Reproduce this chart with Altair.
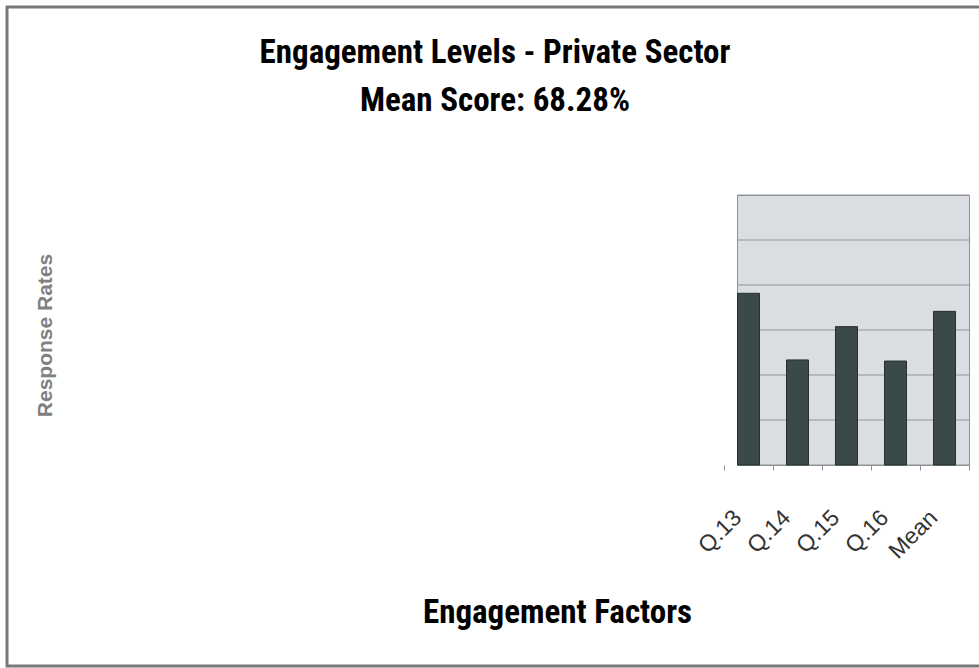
import altair as alt
import pandas as pd

# ---- data ----
categories = ["Q.13", "Q.14", "Q.15", "Q.16", "Mean"]
response_rates = [76.3, 46.7, 61.5, 46.2, 68.28]
y_ticks = [0, 20, 40, 60, 80, 100, 120]
title_lines = ["Engagement Levels - Private Sector", "Mean Score: 68.28%"]

df = pd.DataFrame({"factor": categories, "rate": response_rates})
grid_df = pd.DataFrame({"tick": y_ticks})

NARROW = "Liberation Sans Narrow, Arial Narrow, Roboto Condensed, Liberation Sans"
SANS = "Liberation Sans, Arial, sans-serif"

y_scale = alt.Scale(domain=[0, 120], nice=False)

grid = alt.Chart(grid_df).mark_rule(color="#8f9499", strokeWidth=1).encode(
    y=alt.Y("tick:Q", scale=y_scale)
)

bars = alt.Chart(df).mark_bar(
    size=22, color="#3b4949", stroke="#263030", strokeWidth=1
).encode(
    x=alt.X(
        "factor:N",
        sort=categories,
        scale=alt.Scale(range=[-13, 232], paddingInner=0, paddingOuter=0),
        axis=alt.Axis(
            title="Engagement Factors",
            titleFont=NARROW,
            titleFontSize=33,
            titleFontWeight="bold",
            titleColor="#000000",
            titleX=-180,
            titleY=157,
            titleAlign="center",
            titleBaseline="alphabetic",
            labelAngle=-45,
            labelFont=SANS,
            labelFontSize=23,
            labelColor="#333333",
            labelPadding=36,
            labelOffset=-19,
            domain=False,
            ticks=True,
            tickBand="extent",
            tickColor="#8c9196",
            tickSize=5,
            grid=False,
        ),
    ),
    y=alt.Y(
        "rate:Q",
        scale=y_scale,
        axis=alt.Axis(
            values=y_ticks,
            labels=False,
            ticks=False,
            domain=False,
            grid=False,
            title="Response Rates",
            titleFont=SANS,
            titleFontSize=21,
            titleFontWeight="bold",
            titleColor="#808080",
            titleAngle=270,
            titleAlign="center",
            titleBaseline="middle",
            titleX=-692,
            titleY=140,
        ),
    ),
)

frame = alt.Chart(alt.Data(values=[{}])).mark_rect(
    fillOpacity=0, stroke="#787878", strokeWidth=3
).encode(
    x=alt.value(-730), x2=alt.value(260), y=alt.value(-188), y2=alt.value(471)
)

chart = alt.layer(frame, grid, bars).properties(
    width=232,
    height=270,
    padding={"left": 737, "top": 195, "right": 10, "bottom": 203},
    autosize=alt.AutoSizeParams(type="none"),
    background="white",
    title=alt.TitleParams(
        text=title_lines,
        font=NARROW,
        fontSize=33,
        fontWeight="bold",
        color="#000000",
        anchor="middle",
        frame="group",
        dx=-358,
        offset=-112,
        lineHeight=48,
    ),
).configure_view(
    fill="#dadde1", stroke="#8c9196", strokeWidth=1
)

chart.save("out.html", embed_options={"renderer": "svg", "actions": False})
